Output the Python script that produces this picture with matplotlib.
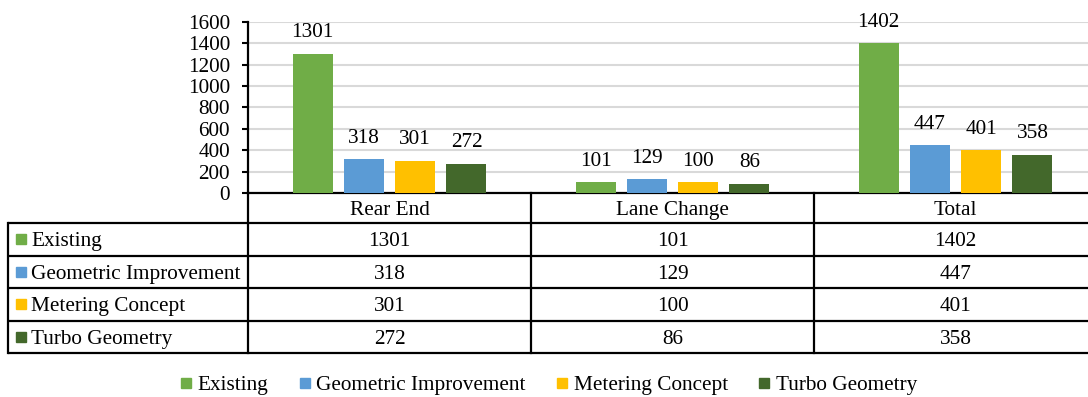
import matplotlib
matplotlib.use("Agg")
import matplotlib.pyplot as plt
import numpy as np
from matplotlib.lines import Line2D
from matplotlib import transforms

categories = ["Rear End", "Lane Change", "Total"]
series_names = ["Existing", "Geometric Improvement", "Metering Concept", "Turbo Geometry"]
existing = [1301, 101, 1402]
geometric = [318, 129, 447]
metering = [301, 100, 401]
turbo = [272, 86, 358]
colors = ["#70AD47", "#5B9BD5", "#FFC000", "#43682B"]
yticks = [0, 200, 400, 600, 800, 1000, 1200, 1400, 1600]

series = [existing, geometric, metering, turbo]

FS = 15.3
plt.rcParams['font.family'] = ['Liberation Serif', 'DejaVu Serif']
plt.rcParams['font.size'] = FS

W, H = 1088, 397
fig = plt.figure(figsize=(W / 100, H / 100), dpi=100)

# pixel layout
ax_left, ax_right = 248, 1097
ax_top, ax_bottom = 21.7, 193
tab_left, tab_bottom = 8, 353
cat_w = (ax_right - ax_left) / 3.0

ax = fig.add_axes([ax_left / W, (H - ax_bottom) / H, (ax_right - ax_left) / W, (ax_bottom - ax_top) / H])
ax.set_xlim(-0.5, 2.5)
ax.set_ylim(0, 1600)
ax.set_yticks(yticks)
ax.yaxis.grid(True, color="#D9D9D9", linewidth=1.5)
ax.set_axisbelow(True)
for s in ["top", "right"]:
    ax.spines[s].set_visible(False)
ax.spines["left"].set_linewidth(1.6)
ax.spines["bottom"].set_linewidth(1.6)
ax.tick_params(axis="y", direction="out", length=4, width=1.5, pad=9, labelsize=FS)
ax.set_xticks([])

x = np.arange(len(categories))
bw = 40 / cat_w
step = 51.3 / cat_w
for i, (vals, c) in enumerate(zip(series, colors)):
    xs = x + (i - 1.5) * step
    ax.bar(xs, vals, width=bw, color=c, zorder=3)
    for xi, v in zip(xs, vals):
        ax.annotate(str(v), (xi, v), xytext=(0, 11.8), textcoords="offset points",
                    ha="center", va="baseline", fontsize=FS)

# table axes
tab = fig.add_axes([tab_left / W, (H - tab_bottom) / H, (ax_right - tab_left) / W, (tab_bottom - ax_bottom) / H])
left_units = (ax_left - tab_left) / cat_w
tab.set_xlim(-0.5 - left_units, 2.5)
hdr = 30 / 32.5
tab.set_ylim(4, -hdr)
tab.axis("off")
base_off = 7.2 / 32.5  # baseline below row centre

lw = 1.6
for r in range(0, 5):
    tab.plot([-0.5 - left_units, 2.5], [r, r], color="black", lw=lw, clip_on=False, solid_capstyle="butt")
tab.plot([-0.5 - left_units] * 2, [0, 4], color="black", lw=lw, clip_on=False)
for b in [-0.5, 0.5, 1.5]:
    tab.plot([b, b], [-hdr, 4], color="black", lw=lw, clip_on=False)

for j, cat in enumerate(categories):
    tab.text(j, -hdr / 2 + base_off, cat, ha="center", va="baseline", fontsize=FS)
    for i, vals in enumerate(series):
        tab.text(j, i + 0.5 + base_off, str(vals[j]), ha="center", va="baseline", fontsize=FS)

blend = transforms.blended_transform_factory(tab.transAxes, tab.transData)
sq_tr = transforms.offset_copy(blend, fig=fig, x=12.5, y=0, units="dots")
tx_tr = transforms.offset_copy(blend, fig=fig, x=23, y=0, units="dots")
for i, (name, c) in enumerate(zip(series_names, colors)):
    tab.plot([0], [i + 0.5], marker="s", color=c, markersize=6.5, ls="none", transform=sq_tr, clip_on=False)
    tab.text(0, i + 0.5 + base_off, name, ha="left", va="baseline", fontsize=FS, transform=tx_tr)

handles = [Line2D([], [], marker="s", ls="none", color=c, markersize=7.5) for c in colors]
fig.legend(handles, series_names, ncol=4, loc="center", bbox_to_anchor=(549 / W, 1 - 385 / H),
           frameon=False, handlelength=0.5, handletextpad=0.3, columnspacing=1.45, fontsize=FS,
           borderpad=0, borderaxespad=0)

fig.savefig("out.png", dpi=100)
